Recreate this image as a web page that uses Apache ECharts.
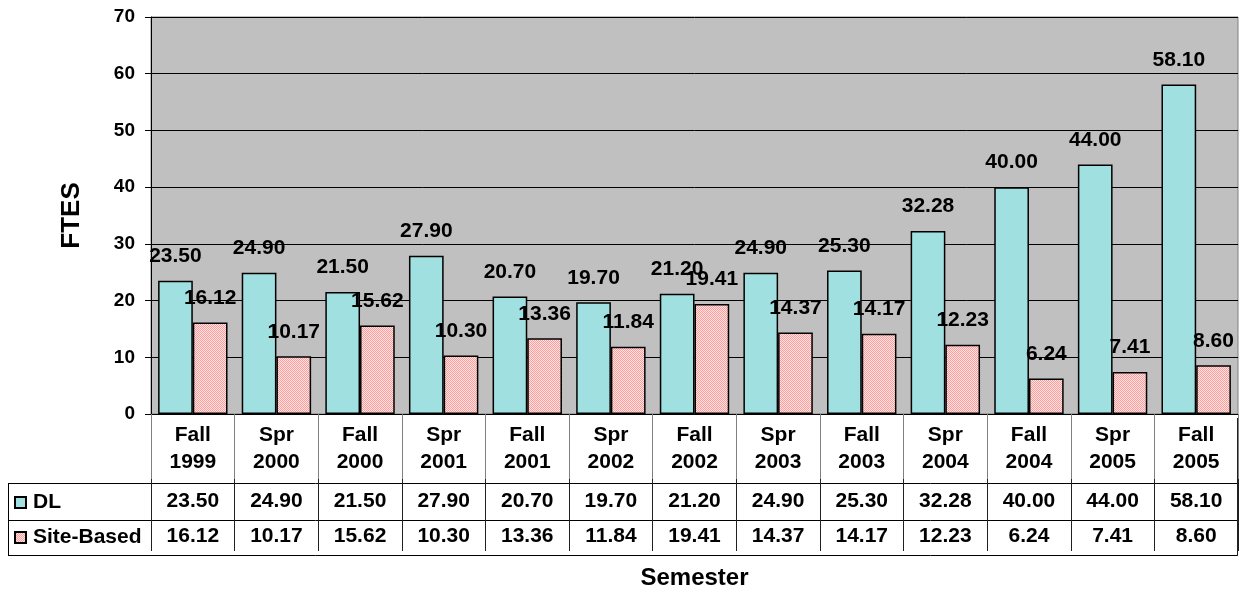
<!DOCTYPE html>
<html>
<head>
<meta charset="utf-8">
<script src="https://cdn.jsdelivr.net/npm/echarts@6/dist/echarts.min.js"></script>
<style>
  html, body { margin: 0; padding: 0; background: #ffffff; }
  #chart { width: 1243px; height: 595px; }
</style>
</head>
<body>
<div id="chart"></div>
<script>
// Semesters shown along the bottom of the chart
const semesters = ['Fall\n1999', 'Spr\n2000', 'Fall\n2000', 'Spr\n2001', 'Fall\n2001', 'Spr\n2002',
  'Fall\n2002', 'Spr\n2003', 'Fall\n2003', 'Spr\n2004', 'Fall\n2004', 'Spr\n2005', 'Fall\n2005'];
// FTES per semester
const dlValues = [23.50, 24.90, 21.50, 27.90, 20.70, 19.70, 21.20, 24.90, 25.30, 32.28, 40.00, 44.00, 58.10];
const siteValues = [16.12, 10.17, 15.62, 10.30, 13.36, 11.84, 19.41, 14.37, 14.17, 12.23, 6.24, 7.41, 8.60];
const seriesNames = ['DL', 'Site-Based'];
const yTicks = [0, 10, 20, 30, 40, 50, 60, 70];

const FONT = '"Liberation Sans", Arial, Helvetica, sans-serif';

// Fine pink dotted fill for the site-based bars
function dotPattern() {
  const c = document.createElement('canvas');
  c.width = 2; c.height = 2;
  const g = c.getContext('2d');
  g.fillStyle = '#FFE4E4';
  g.fillRect(0, 0, 2, 2);
  g.fillStyle = '#FF9C9C';
  g.fillRect(0, 0, 1, 1);
  g.fillRect(1, 1, 1, 1);
  return { image: c, repeat: 'repeat' };
}

const chart = echarts.init(document.getElementById('chart'), null, { renderer: 'canvas' });

const GRID = { left: 151, right: 5, top: 17, bottom: 177 };
const tableLeft = 8, tableRight = 1238;

const labelCommon = {
  show: true,
  position: 'top',
  distance: 14,
  color: '#000',
  fontFamily: FONT,
  fontWeight: 'bold',
  fontSize: 21,
  formatter: p => p.value.toFixed(2)
};

const option = {
  animation: false,
  backgroundColor: '#ffffff',
  textStyle: { fontFamily: FONT },
  grid: {
    left: GRID.left, right: GRID.right, top: GRID.top, bottom: GRID.bottom,
    show: true, backgroundColor: '#C0C0C0', borderColor: '#808080', borderWidth: 1
  },
  legend: {
    orient: 'vertical',
    left: 14,
    top: 492,
    padding: 0,
    itemWidth: 11,
    itemHeight: 11,
    itemGap: 14,
    icon: 'rect',
    selectedMode: false,
    data: seriesNames,
    textStyle: { color: '#000', fontFamily: FONT, fontWeight: 'bold', fontSize: 21, lineHeight: 21, padding: [0, 0, 0, 2] }
  },
  xAxis: [
    {
      type: 'category',
      data: semesters,
      name: 'Semester',
      nameLocation: 'middle',
      nameGap: 152,
      nameTextStyle: { color: '#000', fontFamily: FONT, fontWeight: 'bold', fontSize: 24 },
      axisLine: { show: true, lineStyle: { color: '#000', width: 1 } },
      axisTick: { show: true, length: 65, lineStyle: { color: '#808080', width: 1 } },
      axisLabel: {
        color: '#000', fontFamily: FONT, fontWeight: 'bold', fontSize: 21,
        lineHeight: 27, margin: 8, interval: 0
      },
      splitLine: { show: false }
    },
    {
      type: 'category',
      data: dlValues.map(v => v.toFixed(2)),
      position: 'bottom',
      offset: 65,
      axisLine: { show: false },
      axisTick: { show: true, length: 72, lineStyle: { color: '#202020', width: 1 } },
      axisLabel: { color: '#000', fontFamily: FONT, fontWeight: 'bold', fontSize: 21, lineHeight: 21, margin: 12, interval: 0 }
    },
    {
      type: 'category',
      data: siteValues.map(v => v.toFixed(2)),
      position: 'bottom',
      offset: 65,
      axisLine: { show: false },
      axisTick: { show: false },
      axisLabel: { color: '#000', fontFamily: FONT, fontWeight: 'bold', fontSize: 21, lineHeight: 21, margin: 47, interval: 0 }
    }
  ],
  yAxis: {
    type: 'value',
    min: yTicks[0],
    max: yTicks[yTicks.length - 1],
    interval: 10,
    name: 'FTES',
    nameLocation: 'middle',
    nameRotate: 90,
    nameGap: 66,
    nameTextStyle: { color: '#000', fontFamily: FONT, fontWeight: 'bold', fontSize: 26 },
    axisLine: { show: true, lineStyle: { color: '#000', width: 1 } },
    axisTick: { show: true, length: 6, lineStyle: { color: '#000' } },
    axisLabel: { color: '#000', fontFamily: FONT, fontWeight: 'bold', fontSize: 19, margin: 16 },
    splitLine: { show: true, lineStyle: { color: '#000', width: 1 } }
  },
  series: [
    {
      name: seriesNames[0],
      type: 'bar',
      data: dlValues,
      barGap: '0%',
      barCategoryGap: '17%',
      itemStyle: { color: '#A0E0E0', borderColor: '#000', borderWidth: 1.5 },
      label: labelCommon
    },
    {
      name: seriesNames[1],
      type: 'bar',
      data: siteValues,
      barGap: '0%',
      barCategoryGap: '17%',
      itemStyle: { color: dotPattern(), borderColor: '#000', borderWidth: 1.5 },
      label: labelCommon
    }
  ],
  graphic: [
    // Rules of the data table beneath the plot
    { type: 'line', shape: { x1: tableLeft, y1: 483.5, x2: tableRight, y2: 483.5 }, style: { stroke: '#000', lineWidth: 1 } },
    { type: 'line', shape: { x1: tableLeft, y1: 520.5, x2: tableRight, y2: 520.5 }, style: { stroke: '#000', lineWidth: 1 } },
    { type: 'line', shape: { x1: tableLeft, y1: 555.5, x2: tableRight, y2: 555.5 }, style: { stroke: '#000', lineWidth: 1 } },
    { type: 'line', shape: { x1: tableLeft + 0.5, y1: 483, x2: tableLeft + 0.5, y2: 556 }, style: { stroke: '#000', lineWidth: 1 } },
    { type: 'line', shape: { x1: tableRight - 0.5, y1: 418, x2: tableRight - 0.5, y2: 556 }, style: { stroke: '#202020', lineWidth: 1 } }
  ]
};

chart.setOption(option);
</script>
</body>
</html>
